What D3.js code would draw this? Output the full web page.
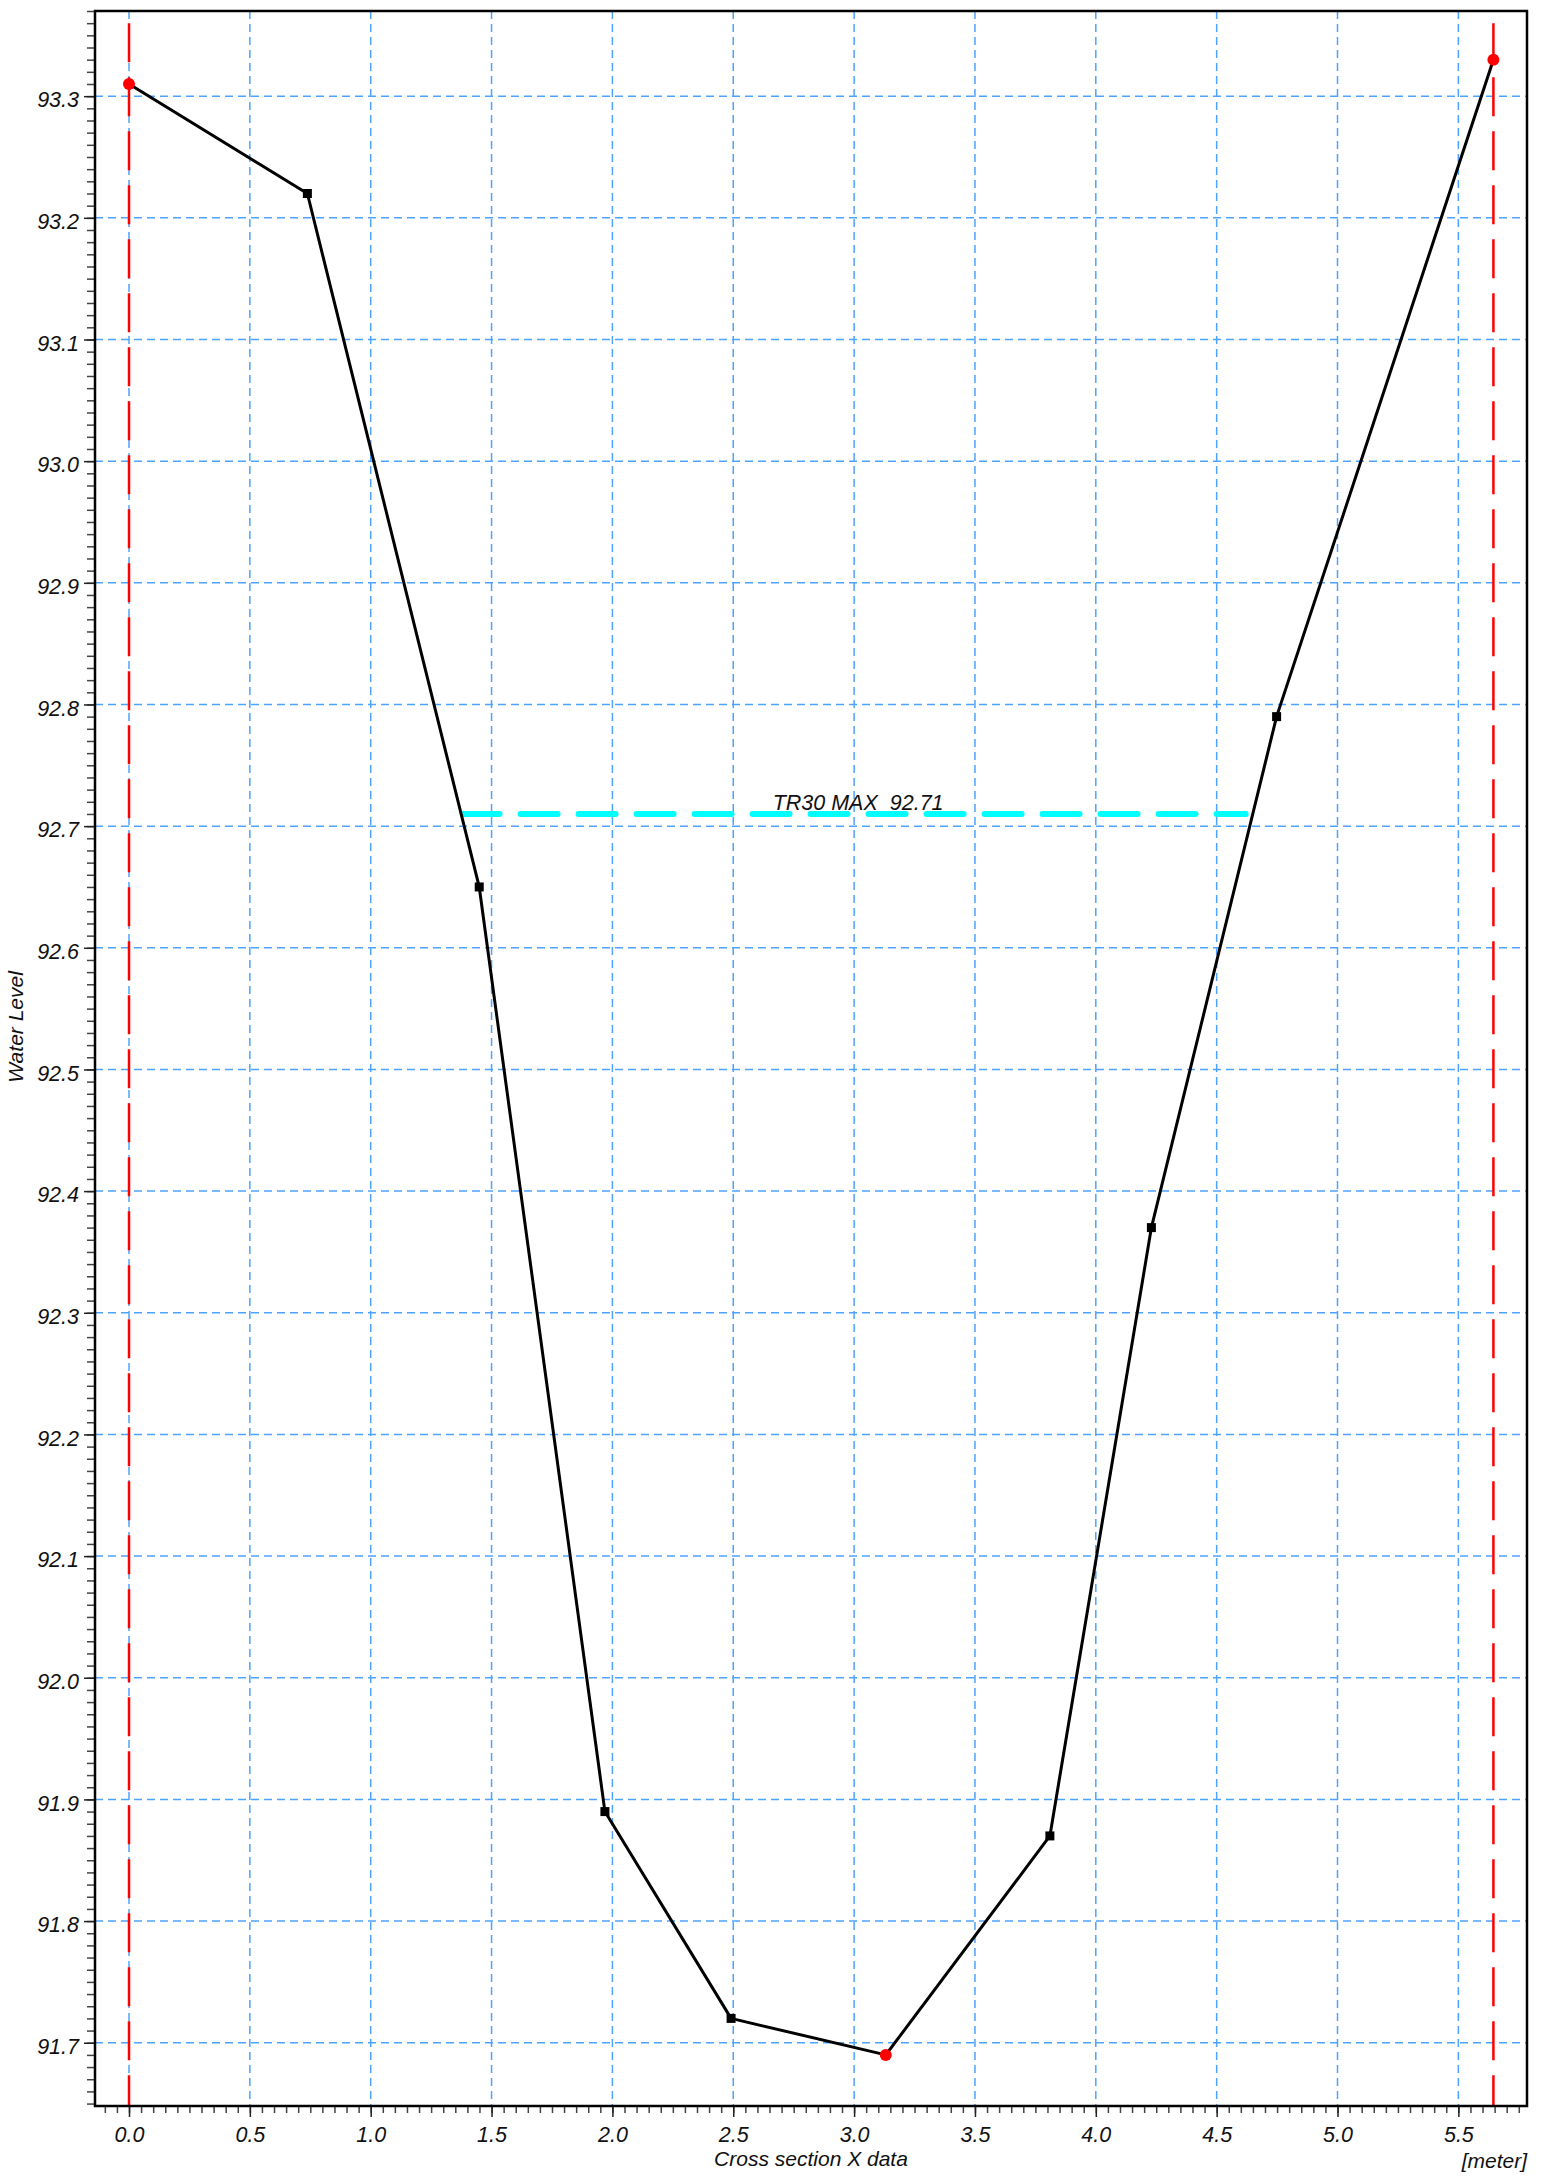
<!DOCTYPE html>
<html>
<head>
<meta charset="utf-8">
<script src="https://cdn.jsdelivr.net/npm/d3@7"></script>
<style>
  body { margin: 0; background: #fff; }
  text { font-family: "Liberation Sans", Arial, sans-serif; font-style: italic; fill: #111; }
</style>
</head>
<body>
<div class="xs-container"></div>
<script>
// cross section survey points
var stationX = [0, 0.738, 1.449, 1.969, 2.491, 3.131, 3.81, 4.23, 4.748, 5.645];
var groundZ  = [93.31, 93.22, 92.65, 91.89, 91.72, 91.69, 91.87, 92.37, 92.79, 93.33];
var pointKind = ['bank', 'pt', 'pt', 'pt', 'pt', 'low', 'pt', 'pt', 'pt', 'bank'];

// bank markers and water level
var bankX = [0, 5.645];
var bankTop = 93.36;
var waterLevel = 92.71;
var waterFrom = [1.38, 4.62];
var waterLabel = 'TR30 MAX  92.71';

// axes
var xDomain = [-0.1407, 5.784];
var yDomain = [91.648, 93.370];
var xMajor = [0, 0.5, 1, 1.5, 2, 2.5, 3, 3.5, 4, 4.5, 5, 5.5];
var yMajor = [91.7, 91.8, 91.9, 92.0, 92.1, 92.2, 92.3, 92.4, 92.5, 92.6, 92.7, 92.8, 92.9, 93.0, 93.1, 93.2, 93.3];
var xMinorStep = 0.05, yMinorStep = 0.01;

var margin = {top: 11, right: 29, bottom: 73, left: 95},
	W = 1556, H = 2179,
	width = W - margin.left - margin.right,
	height = H - margin.top - margin.bottom;

var svg = d3.select('.xs-container').append('svg')
	.attr('width', W)
	.attr('height', H);

var g = svg.append('g')
	.attr('transform', 'translate(' + margin.left + ',' + margin.top + ')');

var x = d3.scaleLinear().domain(xDomain).range([0, width]);
var y = d3.scaleLinear().domain(yDomain).range([height, 0]);

// minor tick positions
var xMinor = d3.range(Math.ceil(xDomain[0] / xMinorStep), Math.floor(xDomain[1] / xMinorStep) + 1).map(function(i){ return +(i * xMinorStep).toFixed(2); });
var yMinor = d3.range(Math.ceil(yDomain[0] / yMinorStep), Math.floor(yDomain[1] / yMinorStep) + 1).map(function(i){ return +(i * yMinorStep).toFixed(2); });

// grid
g.append('g').attr('class', 'grid-x')
	.selectAll('line').data(xMajor).enter().append('line')
	.attr('x1', function(d){ return x(d); }).attr('x2', function(d){ return x(d); })
	.attr('y1', 0).attr('y2', height)
	.attr('stroke', '#4da3ff').attr('stroke-width', 1.5).attr('stroke-dasharray', '8,5');

g.append('g').attr('class', 'grid-y')
	.selectAll('line').data(yMajor).enter().append('line')
	.attr('x1', 0).attr('x2', width)
	.attr('y1', function(d){ return y(d); }).attr('y2', function(d){ return y(d); })
	.attr('stroke', '#4da3ff').attr('stroke-width', 1.5).attr('stroke-dasharray', '8,5');

// minor ticks
var xAxisMinor = d3.axisBottom(x).tickValues(xMinor).tickSize(7).tickFormat('');
var yAxisMinor = d3.axisLeft(y).tickValues(yMinor).tickSize(8).tickFormat('');
g.append('g').attr('transform', 'translate(0,' + height + ')').call(customMinor, xAxisMinor);
g.append('g').call(customMinor, yAxisMinor);

function customMinor(sel, ax) {
	sel.call(ax);
	sel.select('.domain').remove();
	sel.selectAll('.tick line').attr('stroke', '#444').attr('stroke-width', 1.5);
}

// major ticks + labels
var xAxis = d3.axisBottom(x).tickValues(xMajor).tickSize(11).tickPadding(10).tickFormat(d3.format('.1f'));
var yAxis = d3.axisLeft(y).tickValues(yMajor).tickSize(11).tickPadding(5).tickFormat(d3.format('.1f'));

g.append('g').attr('transform', 'translate(0,' + height + ')').call(customXAxis);
g.append('g').call(customYAxis);

function customXAxis(sel) {
	sel.call(xAxis);
	sel.select('.domain').remove();
	sel.selectAll('.tick line').attr('stroke', '#222').attr('stroke-width', 1.5);
	sel.selectAll('.tick text').attr('font-size', 21.5).attr('font-family', null).attr('fill', '#111');
}
function customYAxis(sel) {
	sel.call(yAxis);
	sel.select('.domain').remove();
	sel.selectAll('.tick line').attr('stroke', '#222').attr('stroke-width', 1.5);
	sel.selectAll('.tick text').attr('font-size', 21.5).attr('font-family', null).attr('fill', '#111').attr('dy', '0.5em');
}

// bank lines
g.selectAll('.bank').data(bankX).enter().append('line')
	.attr('class', 'bank')
	.attr('x1', function(d){ return x(d); }).attr('x2', function(d){ return x(d); })
	.attr('y1', y(bankTop)).attr('y2', height)
	.attr('stroke', '#ff0000').attr('stroke-width', 2.5).attr('stroke-dasharray', '39,15');

// water level
g.append('line')
	.attr('x1', x(waterFrom[0])).attr('x2', x(waterFrom[1]))
	.attr('y1', y(waterLevel)).attr('y2', y(waterLevel))
	.attr('stroke', '#00ffff').attr('stroke-width', 6)
	.attr('stroke-linecap', 'round').attr('stroke-dasharray', '37,21');

g.append('text')
	.text(waterLabel)
	.attr('x', x((waterFrom[0] + waterFrom[1]) / 2) + 4)
	.attr('y', y(waterLevel) - 4)
	.attr('font-size', 21.5)
	.style('white-space', 'pre')
	.style('text-anchor', 'middle');

// profile
var pts = stationX.map(function(d, i){ return {x: d, z: groundZ[i], kind: pointKind[i]}; });

g.append('path')
	.datum(pts)
	.attr('fill', 'none')
	.attr('stroke', '#000')
	.attr('stroke-width', 3)
	.attr('stroke-linejoin', 'round')
	.attr('d', d3.line().x(function(d){ return x(d.x); }).y(function(d){ return y(d.z); }));

g.selectAll('.sq').data(pts.filter(function(d){ return d.kind == 'pt'; })).enter().append('rect')
	.attr('class', 'sq')
	.attr('x', function(d){ return x(d.x) - 4.5; })
	.attr('y', function(d){ return y(d.z) - 4.5; })
	.attr('width', 9).attr('height', 9)
	.attr('fill', '#000');

g.selectAll('.dot').data(pts.filter(function(d){ return d.kind != 'pt'; })).enter().append('circle')
	.attr('class', 'dot')
	.attr('cx', function(d){ return x(d.x); })
	.attr('cy', function(d){ return y(d.z); })
	.attr('r', 6)
	.attr('fill', '#ff0000');

// frame
g.append('rect')
	.attr('width', width).attr('height', height)
	.attr('fill', 'none').attr('stroke', '#000').attr('stroke-width', 2.5);

// axis titles
g.append('text')
	.text('Cross section X data')
	.attr('x', width / 2)
	.attr('y', height + 60)
	.attr('font-size', 21)
	.style('text-anchor', 'middle');

g.append('text')
	.text('[meter]')
	.attr('x', width)
	.attr('y', height + 62)
	.attr('font-size', 21)
	.style('text-anchor', 'end');

svg.append('text')
	.text('Water Level')
	.attr('transform', 'translate(23,1027) rotate(-90)')
	.attr('font-size', 21)
	.style('text-anchor', 'middle');
</script>
</body>
</html>
